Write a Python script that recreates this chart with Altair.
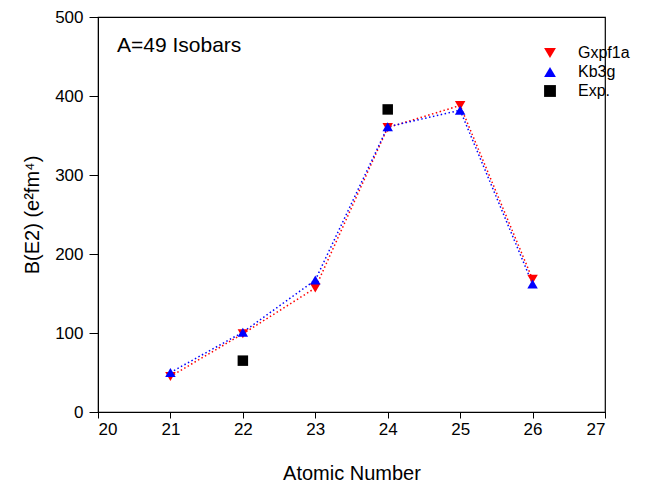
import altair as alt
import pandas as pd

z = [21, 22, 23, 24, 25, 26]
gxpf1a = [45, 99, 157, 360, 388, 168]
kb3g = [50, 101, 167, 361, 382, 162]
exp_z = [22, 24]
exp_v = [65, 383]

series = ["Gxpf1a", "Kb3g", "Exp."]
colors = ["#ff0000", "#0000ff", "#000000"]
shapes = ["triangle-down", "triangle-up", "square"]

rows = []
for a, b in zip(z, gxpf1a):
    rows.append({"Z": a, "B": b, "series": "Gxpf1a"})
for a, b in zip(z, kb3g):
    rows.append({"Z": a, "B": b, "series": "Kb3g"})
for a, b in zip(exp_z, exp_v):
    rows.append({"Z": a, "B": b, "series": "Exp."})
df = pd.DataFrame(rows)

FONT = "Liberation Sans"

x = alt.X("Z:Q", scale=alt.Scale(domain=[20, 27], nice=False),
          axis=alt.Axis(title="Atomic Number", values=list(range(20, 28)), format="d",
                        grid=False, tickSize=6, labelPadding=3, titlePadding=26,
                        labelFontSize=17, titleFontSize=20, labelFont=FONT, titleFont=FONT,
                        titleFontWeight="normal", domainColor="black", tickColor="black",
                        labelColor="black", titleColor="black"))
y = alt.Y("B:Q", scale=alt.Scale(domain=[0, 500], nice=False),
          axis=alt.Axis(title="B(E2) (e²fm⁴)", values=list(range(0, 501, 100)),
                        grid=False, tickSize=9, labelPadding=6, titlePadding=12,
                        labelFontSize=17, titleFontSize=20, labelFont=FONT, titleFont=FONT,
                        titleFontWeight="normal", domainColor="black", tickColor="black",
                        labelColor="black", titleColor="black"))

legend = alt.Legend(title=None, orient="none", legendX=444, legendY=28,
                    labelFont=FONT, labelFontSize=16, labelColor="black",
                    symbolSize=140, rowPadding=3, symbolStrokeWidth=0,
                    labelOffset=20)
color = alt.Color("series:N", scale=alt.Scale(domain=series, range=colors), legend=legend)
shape = alt.Shape("series:N", scale=alt.Scale(domain=series, range=shapes), legend=legend)

base = alt.Chart(df)
lines = base.transform_filter(alt.datum.series != "Exp.").mark_line(
    strokeDash=[1.5, 2.5], strokeWidth=1.5
).encode(x=x, y=y, color=color, detail="series:N")
points = base.mark_point(filled=True, size=110, opacity=1).encode(
    x=x, y=y, color=color, shape=shape
)
label = alt.Chart(pd.DataFrame({"t": ["A=49 Isobars"]})).mark_text(
    align="left", baseline="middle", font=FONT, fontSize=21, color="black"
).encode(x=alt.value(19), y=alt.value(29), text="t:N")

chart = alt.layer(lines, points, label).properties(
    width=507, height=395,
    autosize=alt.AutoSizeParams(type="none"),
    padding={"left": 90, "top": 9, "right": 40, "bottom": 70},
).configure_view(stroke="black", strokeWidth=1.2)

chart.save("out.html", embed_options={"renderer": "svg", "actions": False})
